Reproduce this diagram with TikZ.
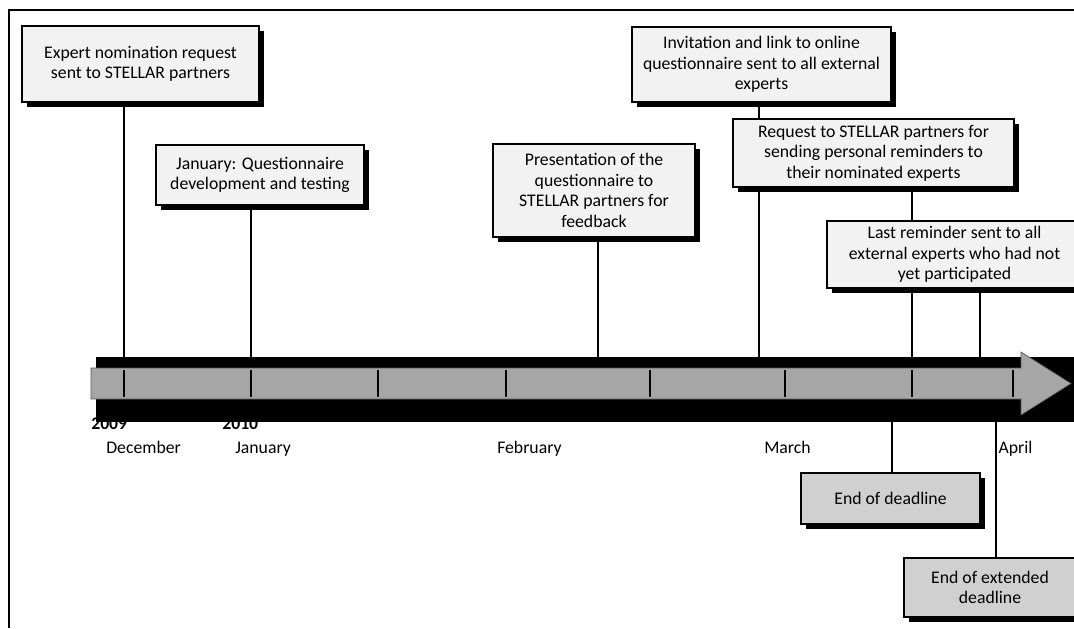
\documentclass[tikz,border=0pt]{standalone}
\usepackage{fontspec}
\setmainfont{Carlito}
\usetikzlibrary{shadows,backgrounds}
\def\pxu{0.75pt}
\definecolor{boxlight}{HTML}{F2F2F2}
\definecolor{boxdark}{HTML}{D0D0D0}
\definecolor{bargray}{HTML}{A6A6A6}
\tikzset{
  evbox/.style={draw=black, line width=1.5pt, align=center, inner sep=0pt,
    font=\fontsize{13.3}{15.4}\selectfont,
    drop shadow={shadow xshift=3.4pt, shadow yshift=-3.4pt, fill=black, opacity=1}},
  upbox/.style={evbox, fill=boxlight},
  downbox/.style={evbox, fill=boxdark},
  conn/.style={draw=black, line width=1.5pt},
  tickline/.style={draw=black, line width=1.3pt},
  monthlabel/.style={anchor=base west, inner sep=0pt, font=\fontsize{13.3}{15}\selectfont},
  yearlabel/.style={anchor=base west, inner sep=0pt, font=\fontsize{13.3}{15}\selectfont\bfseries},
  frameline/.style={draw=black, line width=1.7pt}
}
\begin{document}
\begin{tikzpicture}[x=\pxu, y=-\pxu]
\useasboundingbox (0,0) rectangle (1074,628);
% frame
\draw[frameline] (9,628) -- (9,10) -- (1080,10);
% year labels (partly hidden by the band)
\node[yearlabel] (y2009) at (91,429) {2009};
\node[yearlabel] (y2010) at (222,429) {2010};
% black band
\fill[black] (96,357) rectangle (1080,422);
% grey arrow
\draw[fill=bargray, draw=gray!70!black, line width=0.5pt]
  (91,368) -- (1021,368) -- (1021,352) -- (1071,383.5) -- (1021,415) -- (1021,399) -- (91,399) -- cycle;
\foreach \x in {124,251,378,506,650,785,912,1013}
  \draw[tickline] (\x,370) -- (\x,397);
% anchor points on the bar
\coordinate (t1) at (124,368);
\coordinate (t2) at (251,368);
\coordinate (t3) at (598,368);
\coordinate (t4) at (759,368);
\coordinate (t5) at (912,368);
\coordinate (t6) at (980,368);
\coordinate (u7) at (892,399);
\coordinate (u8) at (996,399);
% boxes
\node[upbox, minimum width=237*\pxu, minimum height=76*\pxu] (b1) at (140.5,64)
  {Expert nomination request\\sent to STELLAR partners};
\node[upbox, minimum width=208*\pxu, minimum height=60*\pxu] (b2) at (260,175)
  {January: Questionnaire\\development and testing};
\node[upbox, minimum width=202*\pxu, minimum height=93*\pxu] (b3) at (594,190.5)
  {Presentation of the\\questionnaire to\\STELLAR partners for\\feedback};
\node[upbox, minimum width=259*\pxu, minimum height=75*\pxu] (b4) at (761.5,64.5)
  {Invitation and link to online\\questionnaire sent to all external\\experts};
\node[upbox, minimum width=281*\pxu, minimum height=68*\pxu] (b5) at (873.5,153)
  {Request to STELLAR partners for\\sending personal reminders to\\their nominated experts};
\node[upbox, minimum width=255*\pxu, minimum height=67*\pxu] (b6) at (954.5,254.5)
  {Last reminder sent to all\\external experts who had not\\yet participated};
\node[downbox, minimum width=179*\pxu, minimum height=51*\pxu] (b7) at (890.5,498.5)
  {End of deadline};
\node[downbox, minimum width=172*\pxu, minimum height=59*\pxu] (b8) at (990,587.5)
  {End of extended\\deadline};
% connectors behind everything
\begin{pgfonlayer}{background}
\draw[conn] (b1.south -| t1) -- (t1);
\draw[conn] (b2.south -| t2) -- (t2);
\draw[conn] (b3.south -| t3) -- (t3);
\draw[conn] (b4.south -| t4) -- (t4);
\draw[conn] (b5.south -| t5) -- (t5);
\draw[conn] (b6.south -| t6) -- (t6);
\draw[conn] (u7) -- (b7.north -| u7);
\draw[conn] (u8) -- (b8.north -| u8);
\end{pgfonlayer}
% month labels
\node[monthlabel] (mdec) at (106,453) {December};
\node[monthlabel] (mjan) at (235,453) {January};
\node[monthlabel] (mfeb) at (497,453) {February};
\node[monthlabel] (mmar) at (764,453) {March};
\node[monthlabel, fill=white, inner ysep=8pt, inner xsep=1pt] (mapr) at (997,453) {April};
\end{tikzpicture}
\end{document}
